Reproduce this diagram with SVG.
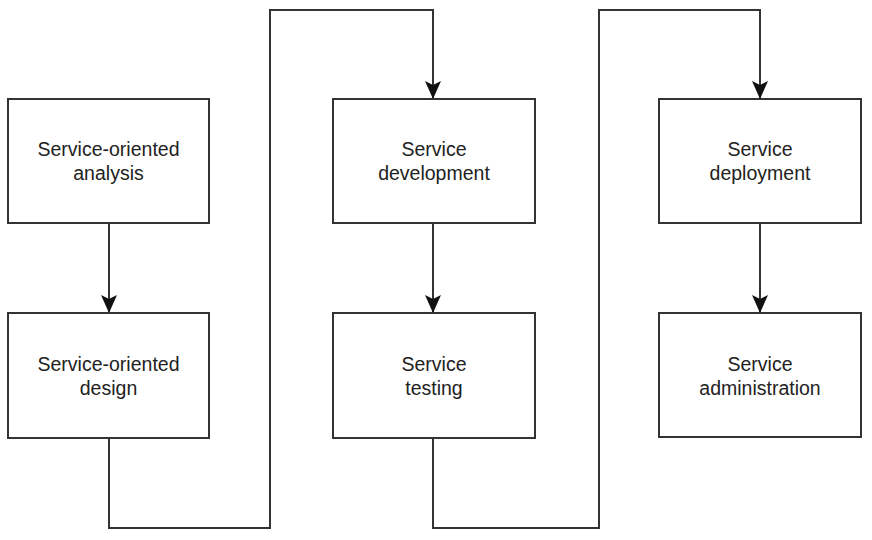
<svg xmlns="http://www.w3.org/2000/svg" width="872" height="540" viewBox="0 0 872 540">
<defs>
<style>
.box{fill:#fff;stroke:#333;stroke-width:2}
.lbl{font-family:"Liberation Sans",Arial,sans-serif;font-size:19.5px;fill:#222;text-anchor:middle}
.con{fill:none;stroke:#333;stroke-width:2;marker-end:url(#arr)}
</style>
<marker id="arr" viewBox="0 0 18 16" refX="17" refY="8" markerWidth="18" markerHeight="16" markerUnits="userSpaceOnUse" orient="auto">
<path d="M0,0 L4,8 L0,16 L18,8 Z" fill="#111"/>
</marker>
</defs>
<rect width="872" height="540" fill="#fff"/>
<g id="connectors">
<path class="con" d="M109,224 V312"/>
<path class="con" d="M109,438 V528 H270 V10 H433 V98"/>
<path class="con" d="M433,224 V312"/>
<path class="con" d="M433,438 V528 H599 V10 H760 V98"/>
<path class="con" d="M760,224 V312"/>
</g>
<g id="n1"><rect class="box" x="8" y="99" width="201" height="124"/><text class="lbl" x="108.5" y="156">Service-oriented</text><text class="lbl" x="108.5" y="180">analysis</text></g>
<g id="n2"><rect class="box" x="8" y="313" width="201" height="125"/><text class="lbl" x="108.5" y="371">Service-oriented</text><text class="lbl" x="108.5" y="395">design</text></g>
<g id="n3"><rect class="box" x="333" y="99" width="202" height="124"/><text class="lbl" x="434" y="156">Service</text><text class="lbl" x="434" y="180">development</text></g>
<g id="n4"><rect class="box" x="333" y="313" width="202" height="125"/><text class="lbl" x="434" y="371">Service</text><text class="lbl" x="434" y="395">testing</text></g>
<g id="n5"><rect class="box" x="659" y="99" width="202" height="124"/><text class="lbl" x="760" y="156">Service</text><text class="lbl" x="760" y="180">deployment</text></g>
<g id="n6"><rect class="box" x="659" y="313" width="202" height="124"/><text class="lbl" x="760" y="371">Service</text><text class="lbl" x="760" y="395">administration</text></g>
</svg>
